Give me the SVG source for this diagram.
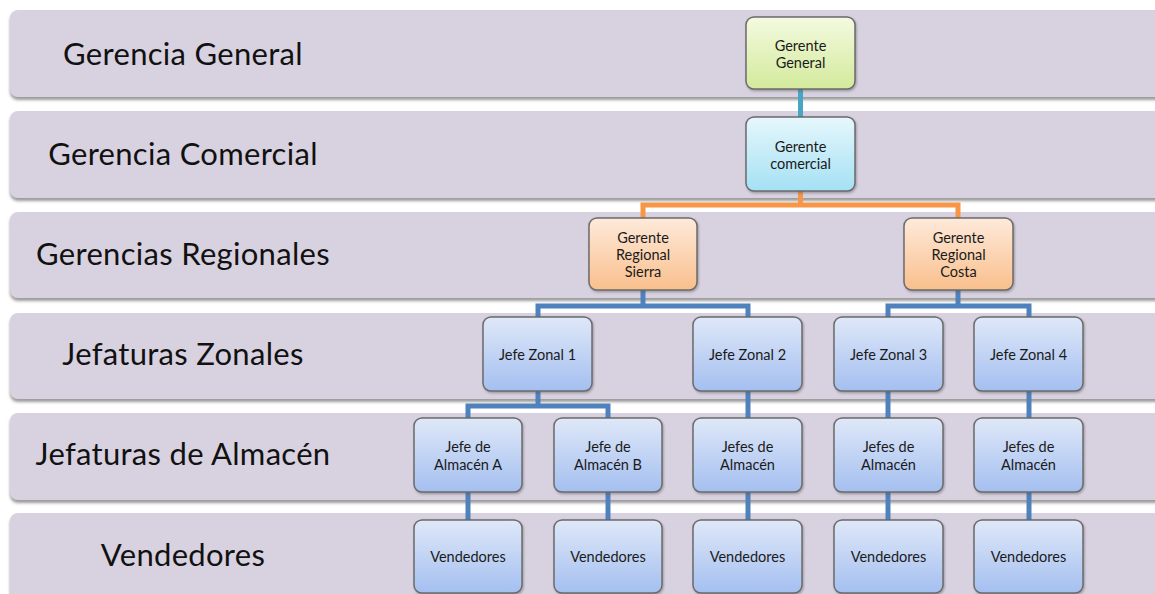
<svg xmlns="http://www.w3.org/2000/svg" width="1155" height="594" viewBox="0 0 1155 594">
  <defs>
    <linearGradient id="gGreen" x1="0" y1="0" x2="0" y2="1">
      <stop offset="0" stop-color="#f4fae0"/>
      <stop offset="1" stop-color="#d3ea9c"/>
    </linearGradient>
    <linearGradient id="gCyan" x1="0" y1="0" x2="0" y2="1">
      <stop offset="0" stop-color="#e6f7fc"/>
      <stop offset="1" stop-color="#a4e1f4"/>
    </linearGradient>
    <linearGradient id="gOrange" x1="0" y1="0" x2="0" y2="1">
      <stop offset="0" stop-color="#feeadb"/>
      <stop offset="1" stop-color="#f9bf8c"/>
    </linearGradient>
    <linearGradient id="gBlue" x1="0" y1="0" x2="0" y2="1">
      <stop offset="0" stop-color="#dfe8f8"/>
      <stop offset="1" stop-color="#a4bff0"/>
    </linearGradient>
    <filter id="bandShadow" x="-5%" y="-20%" width="110%" height="150%">
      <feDropShadow dx="0" dy="3" stdDeviation="1.6" flood-color="#7a7a7a" flood-opacity="0.75"/>
    </filter>
    <filter id="nodeShadow" x="-10%" y="-10%" width="125%" height="130%">
      <feDropShadow dx="1" dy="1.5" stdDeviation="1.2" flood-color="#555" flood-opacity="0.45"/>
    </filter>
  </defs>
  <style>
    .band { fill: #d8d1e0; filter: url(#bandShadow); }
    .bandLabel { font-family: Lato, "Liberation Sans", sans-serif; font-size: 31px; letter-spacing: 0.3px; fill: #111; text-anchor: middle; }
    .node rect { stroke: #6b6b6b; stroke-width: 1.5; filter: url(#nodeShadow); }
    .node text { font-family: Lato, "Liberation Sans", sans-serif; font-size: 14.5px; fill: #1a1a1a; text-anchor: middle; }
    .conn { fill: none; stroke-width: 5; stroke-linecap: butt; stroke-linejoin: miter; }
    .teal { stroke: #4aa5c4; }
    .orange { stroke: #f79646; }
    .blue { stroke: #4f81bd; }
  </style>

  <rect width="1155" height="594" fill="#ffffff"/>

  <!-- level bands -->
  <g id="bands">
    <rect class="band" x="10" y="10" width="1160" height="87" rx="8"/>
    <rect class="band" x="10" y="111" width="1160" height="87" rx="8"/>
    <rect class="band" x="10" y="212" width="1160" height="86" rx="8"/>
    <rect class="band" x="10" y="313" width="1160" height="86" rx="8"/>
    <rect class="band" x="10" y="413" width="1160" height="87" rx="8"/>
    <rect class="band" x="10" y="513" width="1160" height="95" rx="8"/>
    <text class="bandLabel" x="183" y="65">Gerencia General</text>
    <text class="bandLabel" x="183" y="165">Gerencia Comercial</text>
    <text class="bandLabel" x="183" y="265">Gerencias Regionales</text>
    <text class="bandLabel" x="183" y="365">Jefaturas Zonales</text>
    <text class="bandLabel" x="183" y="465">Jefaturas de Almacén</text>
    <text class="bandLabel" x="183" y="566">Vendedores</text>
  </g>

  <!-- connectors -->
  <g id="connectors">
    <path class="conn teal" d="M800.5 89 V117"/>
    <path class="conn orange" d="M800.5 191 V205 M643 219 V205 H958 V219"/>
    <path class="conn blue" d="M643 290 V306 M538 318 V306 H748 V318"/>
    <path class="conn blue" d="M958 290 V306 M888 318 V306 H1029 V318"/>
    <path class="conn blue" d="M538 391 V406 M468 419 V406 H608 V419"/>
    <path class="conn blue" d="M748 391 V419"/>
    <path class="conn blue" d="M888 391 V419"/>
    <path class="conn blue" d="M1029 391 V419"/>
    <path class="conn blue" d="M468 492 V520"/>
    <path class="conn blue" d="M608 492 V520"/>
    <path class="conn blue" d="M748 492 V520"/>
    <path class="conn blue" d="M888 492 V520"/>
    <path class="conn blue" d="M1029 492 V520"/>
  </g>

  <!-- nodes -->
  <g id="gerente-general" class="node">
    <rect x="746" y="17" width="109" height="72" rx="8" fill="url(#gGreen)"/>
    <text x="800.5" y="51">Gerente</text>
    <text x="800.5" y="68">General</text>
  </g>
  <g id="gerente-comercial" class="node">
    <rect x="746" y="117" width="109" height="74" rx="8" fill="url(#gCyan)"/>
    <text x="800.5" y="152">Gerente</text>
    <text x="800.5" y="169">comercial</text>
  </g>
  <g id="gerente-regional-sierra" class="node">
    <rect x="589" y="218" width="108" height="72" rx="8" fill="url(#gOrange)"/>
    <text x="643" y="243">Gerente</text>
    <text x="643" y="260">Regional</text>
    <text x="643" y="277">Sierra</text>
  </g>
  <g id="gerente-regional-costa" class="node">
    <rect x="904" y="218" width="109" height="72" rx="8" fill="url(#gOrange)"/>
    <text x="958.5" y="243">Gerente</text>
    <text x="958.5" y="260">Regional</text>
    <text x="958.5" y="277">Costa</text>
  </g>

  <g id="jefe-zonal-1" class="node">
    <rect x="483" y="317" width="109" height="74" rx="8" fill="url(#gBlue)"/>
    <text x="537.5" y="360">Jefe Zonal 1</text>
  </g>
  <g id="jefe-zonal-2" class="node">
    <rect x="693" y="317" width="109" height="74" rx="8" fill="url(#gBlue)"/>
    <text x="747.5" y="360">Jefe Zonal 2</text>
  </g>
  <g id="jefe-zonal-3" class="node">
    <rect x="834" y="317" width="109" height="74" rx="8" fill="url(#gBlue)"/>
    <text x="888.5" y="360">Jefe Zonal 3</text>
  </g>
  <g id="jefe-zonal-4" class="node">
    <rect x="974" y="317" width="109" height="74" rx="8" fill="url(#gBlue)"/>
    <text x="1028.5" y="360">Jefe Zonal 4</text>
  </g>

  <g id="jefe-almacen-a" class="node">
    <rect x="414" y="418" width="108" height="74" rx="8" fill="url(#gBlue)"/>
    <text x="468" y="452">Jefe de</text>
    <text x="468" y="470">Almacén A</text>
  </g>
  <g id="jefe-almacen-b" class="node">
    <rect x="554" y="418" width="108" height="74" rx="8" fill="url(#gBlue)"/>
    <text x="608" y="452">Jefe de</text>
    <text x="608" y="470">Almacén B</text>
  </g>
  <g id="jefes-almacen-2" class="node">
    <rect x="693" y="418" width="109" height="74" rx="8" fill="url(#gBlue)"/>
    <text x="747.5" y="452">Jefes de</text>
    <text x="747.5" y="470">Almacén</text>
  </g>
  <g id="jefes-almacen-3" class="node">
    <rect x="834" y="418" width="109" height="74" rx="8" fill="url(#gBlue)"/>
    <text x="888.5" y="452">Jefes de</text>
    <text x="888.5" y="470">Almacén</text>
  </g>
  <g id="jefes-almacen-4" class="node">
    <rect x="974" y="418" width="109" height="74" rx="8" fill="url(#gBlue)"/>
    <text x="1028.5" y="452">Jefes de</text>
    <text x="1028.5" y="470">Almacén</text>
  </g>

  <g id="vendedores-1" class="node">
    <rect x="414" y="520" width="108" height="73" rx="8" fill="url(#gBlue)"/>
    <text x="468" y="562">Vendedores</text>
  </g>
  <g id="vendedores-2" class="node">
    <rect x="554" y="520" width="108" height="73" rx="8" fill="url(#gBlue)"/>
    <text x="608" y="562">Vendedores</text>
  </g>
  <g id="vendedores-3" class="node">
    <rect x="693" y="520" width="109" height="73" rx="8" fill="url(#gBlue)"/>
    <text x="747.5" y="562">Vendedores</text>
  </g>
  <g id="vendedores-4" class="node">
    <rect x="834" y="520" width="109" height="73" rx="8" fill="url(#gBlue)"/>
    <text x="888.5" y="562">Vendedores</text>
  </g>
  <g id="vendedores-5" class="node">
    <rect x="974" y="520" width="109" height="73" rx="8" fill="url(#gBlue)"/>
    <text x="1028.5" y="562">Vendedores</text>
  </g>
</svg>
